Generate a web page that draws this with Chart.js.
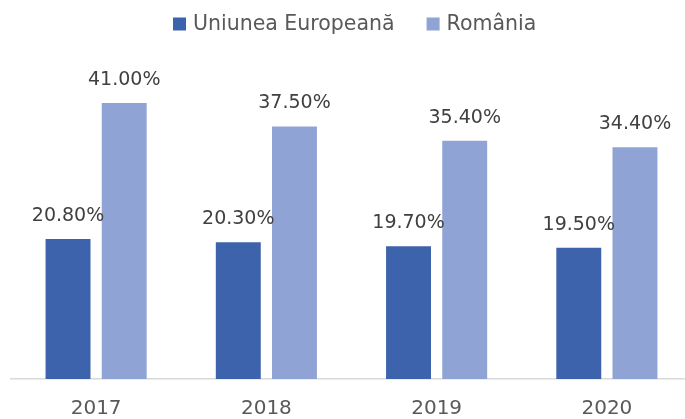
<!DOCTYPE html>
<html>
<head>
<meta charset="utf-8">
<script src="https://cdn.jsdelivr.net/npm/chart.js@4"></script>
<style>
  html, body { margin: 0; padding: 0; background: #ffffff; overflow: hidden; }
  #wrap { width: 692px; height: 419px; }
</style>
</head>
<body>
<div id="wrap"><canvas id="c"></canvas></div>
<script>
const years = ['2017', '2018', '2019', '2020'];
const seriesNames = ['Uniunea Europeană', 'România'];
const euValues = [20.8, 20.3, 19.7, 19.5];
const roValues = [41.0, 37.5, 35.4, 34.4];
const seriesColors = ['#3c63ab', '#8fa3d4'];

// Value labels above every bar
const valueLabels = {
  id: 'valueLabels',
  afterDatasetsDraw(chart) {
    const ctx = chart.ctx;
    ctx.save();
    ctx.font = '19px "DejaVu Sans"';
    ctx.fillStyle = '#404040';
    ctx.textAlign = 'center';
    ctx.textBaseline = 'middle';
    chart.data.datasets.forEach((ds, i) => {
      chart.getDatasetMeta(i).data.forEach((bar, j) => {
        ctx.fillText(ds.data[j].toFixed(2) + '%', bar.x, bar.y - 23);
      });
    });
    ctx.restore();
  }
};

// Legend row at the top
const topLegend = {
  id: 'topLegend',
  afterDraw(chart) {
    const ctx = chart.ctx;
    ctx.save();
    ctx.font = '20.5px "DejaVu Sans"';
    ctx.textBaseline = 'middle';
    const box = 13, gapText = 7, gapItem = 32;
    let x = 173;
    const y = 24;
    chart.data.datasets.forEach(ds => {
      ctx.fillStyle = ds.backgroundColor;
      ctx.fillRect(x, y - box / 2, box, box);
      ctx.fillStyle = '#595959';
      ctx.fillText(ds.label, x + box + gapText, y + 1);
      x += box + gapText + ctx.measureText(ds.label).width + gapItem;
    });
    ctx.restore();
  }
};

new Chart(document.getElementById('c'), {
  type: 'bar',
  data: {
    labels: years,
    datasets: [
      { label: seriesNames[0], data: euValues, backgroundColor: seriesColors[0] },
      { label: seriesNames[1], data: roValues, backgroundColor: seriesColors[1] }
    ]
  },
  options: {
    responsive: true,
    maintainAspectRatio: false,
    animation: false,
    devicePixelRatio: 1,
    layout: { padding: { top: 76, left: 11, right: 0, bottom: -20 } },
    datasets: { bar: { categoryPercentage: 0.66, barPercentage: 0.8 } },
    plugins: { legend: { display: false }, tooltip: { enabled: false } },
    scales: {
      x: {
        grid: { display: false, drawTicks: false },
        border: { display: true, color: '#d9d9d9', width: 1.5 },
        ticks: { color: '#595959', font: { family: 'DejaVu Sans', size: 20, lineHeight: 1 }, padding: 20 }
      },
      y: { display: false, min: 0, max: 45 }
    }
  },
  plugins: [valueLabels, topLegend]
});
</script>
</body>
</html>
